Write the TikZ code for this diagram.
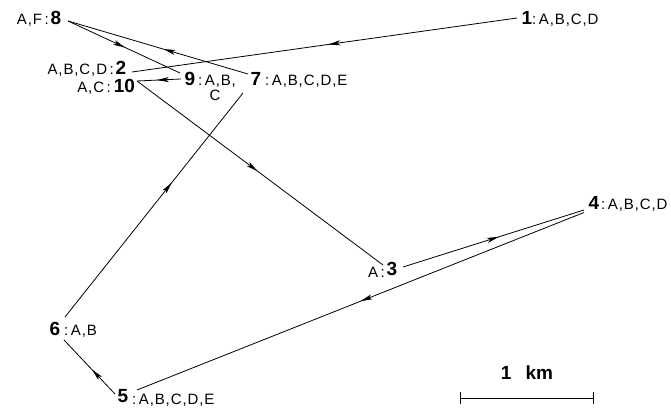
\documentclass[tikz,border=0pt]{standalone}
\usepackage{fontspec}
\setmainfont{Liberation Sans}
\usetikzlibrary{decorations.markings,arrows.meta,calc}
\tikzset{
  num/.style={font=\fontsize{19}{19}\selectfont\bfseries, inner sep=0pt, anchor=base},
  lab/.style={font=\fontsize{15}{15}\selectfont\addfontfeatures{LetterSpace=6}, inner sep=0pt},
  labr/.style={lab, anchor=base west},
  labl/.style={lab, anchor=base east},
  route/.style={line width=0.8pt, postaction={decorate},
    decoration={markings, mark=at position #1 with {\arrow{Stealth[length=12pt,width=5pt,inset=3pt]}}}},
  route/.default=0.5,
  bar/.style={line width=0.8pt}
}
\begin{document}
\begin{tikzpicture}[x=1pt,y=-1pt]
\useasboundingbox (0,0) rectangle (671,411);
% stations
\node[num] (n1) at (527,24.5) {1};
\node[labr] (l1) at (532,24.5) {:\,A,B,C,D};
\node[num] (n8) at (56,24.5) {8};
\node[labl] (l8) at (49,24.5) {A,F\,:};
\node[num] (n2) at (121,74.5) {2};
\node[labl] (l2) at (114,74.5) {A,B,C,D\,:};
\node[num] (n10) at (124.5,92.5) {10};
\node[labl] (l10) at (111,92.5) {A,C\,:};
\node[num] (n9) at (190,85.5) {9};
\node[labr] (l9) at (198,85.5) {:\,A,B,};
\node[lab, anchor=base] (l9b) at (215,101) {C};
\node[num] (n7) at (256,85.5) {7};
\node[labr] (l7) at (265,85.5) {:\,A,B,C,D,E};
\node[num] (n3) at (392,275.5) {3};
\node[labl] (l3) at (385,278) {A\,:};
\node[num] (n4) at (594,209.5) {4};
\node[labr] (l4) at (601,209.5) {:\,A,B,C,D};
\node[num] (n6) at (55,335.5) {6};
\node[labr] (l6) at (64,335.5) {:\,A,B};
\node[num] (n5) at (123,402.5) {5};
\node[labr] (l5) at (132,404) {:\,A,B,C,D,E};
% connector ends
\coordinate (p1) at (517,18);
\coordinate (p2) at (132,72);
\coordinate (p8) at (68,21);
\coordinate (p9a) at (180,73);
\coordinate (p9b) at (181,79);
\coordinate (p10) at (137,81);
\coordinate (p7a) at (248,74);
\coordinate (p7b) at (243,93);
\coordinate (p3a) at (383,265);
\coordinate (p3b) at (403,267);
\coordinate (p4a) at (584,210);
\coordinate (p4b) at (584,212.5);
\coordinate (p5) at (137,390);
\coordinate (p5b) at (115,394);
\coordinate (p6a) at (64,340);
\coordinate (p6b) at (65,317);
% route
\draw[route=0.49] (p1) -- (p2);
\draw[route=0.51] (p8) -- (p9a);
\draw[route=0.47] (p7a) -- (p8);
\draw[route=0.55] (p9b) -- (p10);
\draw[route=0.49] (p10) -- (p3a);
\draw[route=0.53] (p3b) -- (p4a);
\draw[route=0.5] (p4b) -- (p5);
\draw[route=0.45] (p5b) -- (p6a);
\draw[route=0.6] (p6b) -- (p7b);
% scale bar
\coordinate (s1) at (460,398);
\coordinate (s2) at (593,398);
\draw[bar] (s1) -- (s2);
\draw[bar] ($(s1)+(0,-6)$) -- ($(s1)+(0,6)$);
\draw[bar] ($(s2)+(0,-6)$) -- ($(s2)+(0,6)$);
\node[font=\fontsize{19}{19}\selectfont\bfseries, inner sep=0pt, anchor=base] (km) at (527,379) {1\hspace{14pt}km};
\end{tikzpicture}
\end{document}
